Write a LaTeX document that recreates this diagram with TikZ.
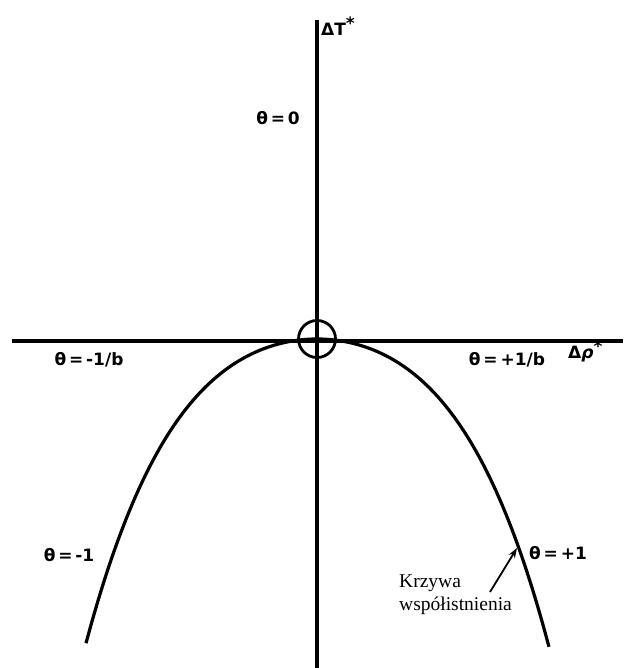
\documentclass[tikz,border=0pt]{standalone}
\usepackage{fontspec}
\setmainfont{Liberation Serif}
\newfontfamily\lblfont{DejaVu Sans}
\usetikzlibrary{arrows.meta}
\begin{document}
\begin{tikzpicture}[x=1pt,y=-1pt,
  axis/.style={line width=3.2pt},
  curvestyle/.style={line width=3.2pt, line join=round},
  lbl/.style={font=\lblfont\bfseries\fontsize{17}{17}\selectfont, inner sep=0pt},
  axlbl/.style={font=\lblfont\bfseries\fontsize{17}{17}\selectfont, inner sep=0pt},
  note/.style={font=\fontsize{19.5}{23}\selectfont, inner sep=0pt, align=left}]
\useasboundingbox (0,0) rectangle (629,668);
\coordinate (ytop) at (317,20);
\coordinate (ybot) at (317,668);
\coordinate (xl) at (12,341);
\coordinate (xr) at (623,341);
\draw[axis] (ybot) -- (ytop);
\draw[axis] (xl) -- (xr);
\node[draw, circle, line width=2.8pt, minimum size=37pt, inner sep=0pt] (crit) at (317,339) {};
\draw[curvestyle, x=100pt] plot[domain=-2.31:2.32, samples=90, smooth]
  (\x+3.17, {339 + 33*\x*\x + 4.5*\x*\x*\x*\x});
\coordinate (tip) at (517,548);
\coordinate (tail) at (490,592);
\draw[line width=1.8pt, -{Stealth[length=10pt,width=7pt]}] (tail) -- (tip);
\node[axlbl, anchor=south west] (dT) at (321,36) {ΔT\raisebox{6pt}{*}};
\node[axlbl, anchor=south west] (drho) at (568,362) {Δ\textit{ρ}\raisebox{6pt}{*}};
\node[lbl] (t0) at (278,118) {θ\,=\,0};
\node[lbl] (tm1b) at (89,360) {θ\,=\,-1/b};
\node[lbl] (tp1b) at (507,360) {θ\,=\,+1/b};
\node[lbl] (tm1) at (69,555) {θ\,=\,-1};
\node[lbl] (tp1) at (558,553) {θ\,=\,+1};
\node[note, anchor=west] (kw) at (399,595) {Krzywa\\współistnienia};
\end{tikzpicture}
\end{document}
